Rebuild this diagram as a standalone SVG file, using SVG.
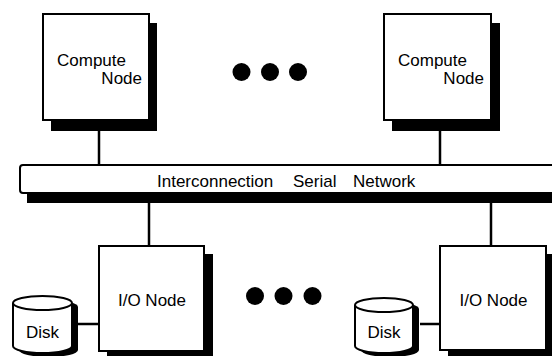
<svg xmlns="http://www.w3.org/2000/svg" width="552" height="356" viewBox="0 0 552 356">
<style>
.box{fill:#fff;stroke:#000;stroke-width:2}
.sh{fill:#000}
.ln{stroke:#000;stroke-width:2.5;fill:none}
.t{font-family:"Liberation Sans",Arial,sans-serif;font-size:17px;fill:#000}
</style>
<rect width="552" height="356" fill="#fff"/>
<g id="connectors">
<line class="ln" x1="99" y1="131" x2="99" y2="165"/>
<line class="ln" x1="440" y1="131" x2="440" y2="165"/>
<line class="ln" x1="149" y1="203" x2="149" y2="246"/>
<line class="ln" x1="491" y1="203" x2="491" y2="246"/>
<line class="ln" x1="78" y1="324" x2="99" y2="324"/>
<line class="ln" x1="420" y1="324" x2="440" y2="324"/>
</g>
<g id="bus">
<rect class="sh" x="27" y="175" width="560" height="28"/>
<rect class="box" x="20" y="165" width="560" height="28" rx="3"/>
<text class="t" x="157" y="187">Interconnection</text>
<text class="t" x="293" y="187">Serial</text>
<text class="t" x="353" y="187">Network</text>
</g>
<g id="compute1">
<rect class="sh" x="51" y="23" width="106" height="108"/>
<rect class="box" x="43" y="14" width="106" height="106"/>
<text class="t" x="57" y="66">Compute</text>
<text class="t" x="142" y="84" text-anchor="end">Node</text>
</g>
<g id="compute2">
<rect class="sh" x="392" y="23" width="108" height="108"/>
<rect class="box" x="384" y="14" width="107" height="106"/>
<text class="t" x="398" y="66">Compute</text>
<text class="t" x="484" y="84" text-anchor="end">Node</text>
</g>
<g id="dots-top">
<circle cx="241.5" cy="72" r="9"/>
<circle cx="270" cy="72" r="9"/>
<circle cx="298" cy="72" r="9"/>
</g>
<g id="io1">
<rect class="sh" x="107" y="254" width="106" height="110"/>
<rect class="box" x="99" y="246" width="105" height="105"/>
<text class="t" x="152" y="306" text-anchor="middle">I/O Node</text>
</g>
<g id="io2">
<rect class="sh" x="448" y="254" width="110" height="110"/>
<rect class="box" x="440" y="246" width="106" height="104"/>
<text class="t" x="493.5" y="306" text-anchor="middle">I/O Node</text>
</g>
<g id="dots-bottom">
<circle cx="255" cy="296" r="9"/>
<circle cx="283.5" cy="296" r="9"/>
<circle cx="312.5" cy="296" r="9"/>
</g>
<g id="disk1">
<path class="sh" d="M19,307 a29.5,7 0 0 1 59,0 V350 a29.5,7 0 0 1 -59,0 Z"/>
<path class="box" d="M13,303 a29.5,7 0 0 1 59,0 V346 a29.5,7 0 0 1 -59,0 Z"/>
<path class="box" fill="none" d="M13,303 a29.5,7 0 0 0 59,0"/>
<text class="t" x="42.5" y="338" text-anchor="middle">Disk</text>
</g>
<g id="disk2">
<path class="sh" d="M361,309 a29,7 0 0 1 58,0 V350 a29,7 0 0 1 -58,0 Z"/>
<path class="box" d="M355,305 a29,7 0 0 1 58,0 V346 a29,7 0 0 1 -58,0 Z"/>
<path class="box" fill="none" d="M355,305 a29,7 0 0 0 58,0"/>
<text class="t" x="384" y="338" text-anchor="middle">Disk</text>
</g>
</svg>
